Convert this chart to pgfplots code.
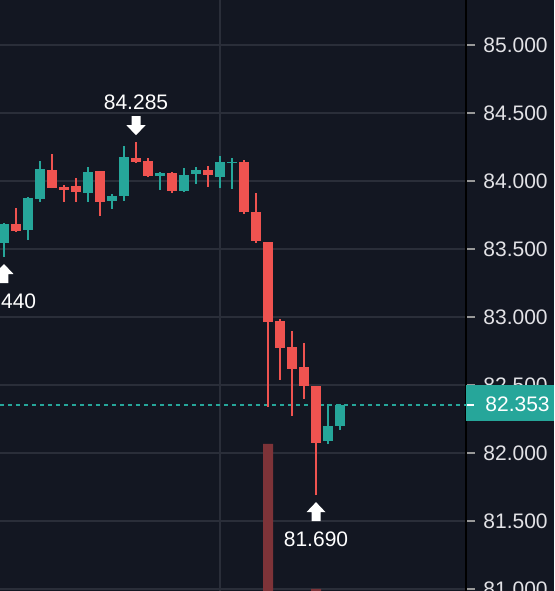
\documentclass[border=0pt]{standalone}
\usepackage{pgfplots}
\usepackage{pgfplotstable}
\pgfplotsset{compat=1.18}
\usepackage{fontspec}
\setmainfont{Liberation Sans}
\definecolor{bg}{HTML}{131722}
\definecolor{gridc}{HTML}{2A2E39}
\definecolor{upc}{HTML}{26A69A}
\definecolor{dnc}{HTML}{EF5350}
\definecolor{volc}{HTML}{7D3338}
\definecolor{txtc}{HTML}{E2E2E6}
\pgfplotstableread{
i o h l c
0 83.544 83.690 83.441 83.684
2 83.640 83.880 83.566 83.875
3 83.868 84.147 83.846 84.088
7 83.912 84.103 83.846 84.066
9 83.853 83.904 83.794 83.890
10 83.890 84.257 83.853 84.176
13 84.037 84.066 83.934 84.059
15 83.926 84.096 83.919 84.044
16 84.051 84.103 83.978 84.081
18 84.029 84.184 83.949 84.140
19 84.133 84.169 83.941 84.140
27 82.088 82.360 82.066 82.199
28 82.199 82.360 82.169 82.353
}\uptab
\pgfplotstableread{
i o h l c
1 83.684 83.801 83.625 83.632
4 84.081 84.199 83.945 83.949
5 83.956 83.971 83.846 83.934
6 83.963 84.022 83.846 83.919
8 84.074 84.074 83.743 83.846
11 84.169 84.285 84.132 84.140
12 84.147 84.169 84.029 84.037
14 84.059 84.066 83.912 83.926
17 84.081 84.110 83.956 84.044
20 84.140 84.154 83.757 83.772
21 83.772 83.912 83.544 83.559
22 83.551 83.551 82.338 82.963
23 82.971 82.985 82.537 82.772
24 82.779 82.897 82.272 82.618
25 82.632 82.809 82.397 82.493
26 82.493 82.493 81.690 82.074
}\dntab
\pgfplotsset{candle/.style={only marks, mark=*, mark size=0pt,
  mark options={draw=none, fill=none}, error bars/.cd, y dir=plus, y explicit, error mark=none}}
\begin{document}
\begin{tikzpicture}
\fill[bg] (0,0) rectangle (277pt,295.5pt);
\begin{axis}[
  at={(0,0)}, anchor=south west,
  scale only axis, width=233pt, height=295.5pt,
  xmin=-0.3333, xmax=38.5, ymin=80.985, ymax=85.331,
  axis x line*=bottom, axis y line*=right,
  x axis line style={draw=none},
  y axis line style={black, line width=1pt},
  xtick={18}, xticklabels={}, x tick style={draw=none},
  ytick={81,81.5,82,82.5,83,83.5,84,84.5,85},
  xmajorgrids, ymajorgrids,
  grid style={gridc, line width=0.8pt},
  tick align=outside, major tick length=4.5pt,
  y tick style={color=gray!80, line width=0.8pt},
  yticklabel style={font=\fontsize{10.5}{12}\selectfont, text=txtc, anchor=west, inner sep=0pt, xshift=4pt,
    /pgf/number format/fixed, /pgf/number format/fixed zerofill,
    /pgf/number format/precision=3, /pgf/number format/1000 sep={},
    /pgf/number format/assume math mode=true},
]
% volume bars
\addplot[ybar, bar width=5pt, fill=volc, draw=none] coordinates {(22,82.066) (26,81.000)};
% price line
\addplot[upc, line width=0.75pt, dash pattern=on 2pt off 2pt] coordinates {(-1,82.353) (38.5,82.353)};
% wicks
\addplot[candle, error bar style={draw=upc, line width=1pt}]
  table[x=i, y=l, y error plus expr=\thisrow{h}-\thisrow{l}] {\uptab};
\addplot[candle, error bar style={draw=dnc, line width=1pt}]
  table[x=i, y=l, y error plus expr=\thisrow{h}-\thisrow{l}] {\dntab};
% bodies
\addplot[candle, error bar style={draw=upc, line width=5pt}]
  table[x=i, y=o, y error plus expr=\thisrow{c}-\thisrow{o}] {\uptab};
\addplot[candle, error bar style={draw=dnc, line width=5pt}]
  table[x=i, y=c, y error plus expr=\thisrow{o}-\thisrow{c}] {\dntab};
\coordinate (hiL) at (axis cs:11,84.285);
\coordinate (loAA) at (axis cs:26,81.690);
\coordinate (loA) at (axis cs:0,83.441);
\coordinate (pb) at (axis cs:38.5,82.353);
\end{axis}
% annotations
\foreach \P in {loAA,loA}{
  \fill[white] ([yshift=-3.5pt]\P) -- ++(4.75pt,-5pt) -- ++(-2.5pt,0) -- ++(0,-4.5pt) -- ++(-4.5pt,0) -- ++(0,4.5pt) -- ++(-2.5pt,0) -- cycle;
}
\fill[white] ([yshift=3.5pt]hiL) -- ++(4.75pt,5pt) -- ++(-2.5pt,0) -- ++(0,4.5pt) -- ++(-4.5pt,0) -- ++(0,-4.5pt) -- ++(-2.5pt,0) -- cycle;
\node[anchor=base, inner sep=0pt, text=white, font=\fontsize{10.5}{12}\selectfont] at ([yshift=-25.5pt]loAA) {81.690};
\node[anchor=base, inner sep=0pt, text=white, font=\fontsize{10.5}{12}\selectfont] at ([yshift=-25.5pt]loA) {83.440};
\node[anchor=base, inner sep=0pt, text=white, font=\fontsize{10.5}{12}\selectfont] at ([yshift=16.5pt]hiL) {84.285};
% price box
\fill[upc] ([yshift=-8.2pt]pb) rectangle ([xshift=44pt,yshift=9.9pt]pb);
\draw[white, line width=1pt] ([xshift=0.5pt]pb) -- ++(3.5pt,0);
\node[anchor=base west, inner sep=0pt, text=white, font=\fontsize{10.5}{12}\selectfont] at ([xshift=9.5pt,yshift=-3.35pt]pb) {82.353};
\pgfresetboundingbox
\path[use as bounding box] (0,0) rectangle (277pt,295.5pt);
\end{tikzpicture}
\end{document}
